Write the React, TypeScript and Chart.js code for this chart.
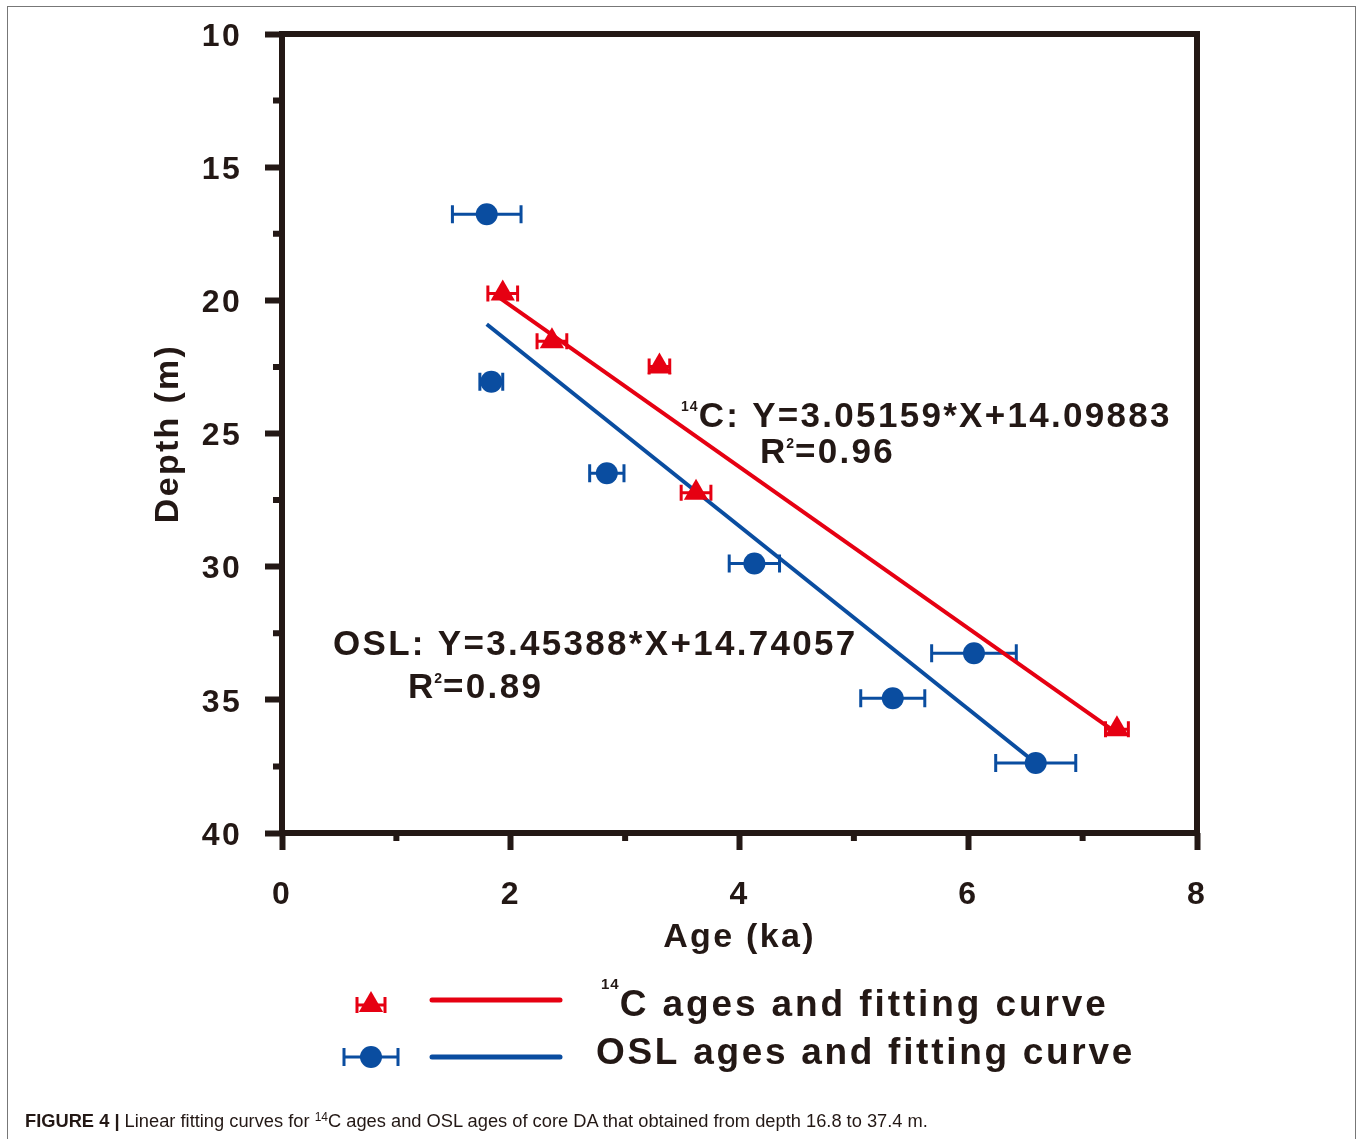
import React, { useEffect, useRef } from 'react';
import { Chart, registerables } from 'chart.js';

Chart.register(...registerables);

// ---------- data ----------
const c14Age = [1.93, 2.36, 3.30, 3.62, 7.30];
const c14Depth = [19.74, 21.54, 22.48, 27.22, 36.1];
const c14Err = [0.13, 0.13, 0.09, 0.13, 0.1];

const oslAge = [1.79, 1.83, 2.84, 4.13, 6.05, 5.34, 6.59];
const oslDepth = [16.77, 23.06, 26.49, 29.88, 33.25, 34.94, 37.37];
const oslErr = [0.30, 0.10, 0.15, 0.22, 0.37, 0.28, 0.35];

const c14FitAge = [1.90, 7.30];
const c14FitDepth = [19.90, 36.25];
const oslFitAge = [1.79, 6.59];
const oslFitDepth = [20.90, 37.37];

const xMinorTicks = [1, 3, 5, 7];
const yMinorTicks = [12.5, 17.5, 22.5, 27.5, 32.5, 37.5];

const c14Equation = 'C: Y=3.05159*X+14.09883';
const c14R2 = '=0.96';
const oslEquation = 'OSL: Y=3.45388*X+14.74057';
const oslR2 = '=0.89';
const c14Label = 'C ages and fitting curve';
const oslLabel = 'OSL ages and fitting curve';

// ---------- styles ----------
const INK = '#231815';
const RED = '#e60012';
const BLUE = '#0a4da0';
const FONT = '"Liberation Sans", Arial, Helvetica, sans-serif';

type Part = { t: string; size: number; dy: number; ls: number };

function drawRich(ctx: CanvasRenderingContext2D, x: number, y: number, parts: Part[], color: string) {
  let cx = x;
  ctx.save();
  ctx.fillStyle = color;
  ctx.textAlign = 'left';
  ctx.textBaseline = 'alphabetic';
  for (const p of parts) {
    ctx.font = `bold ${p.size}px ${FONT}`;
    (ctx as any).letterSpacing = `${p.ls}px`;
    ctx.fillText(p.t, cx, y + p.dy);
    cx += ctx.measureText(p.t).width;
  }
  ctx.restore();
}

function drawErrorBar(ctx: CanvasRenderingContext2D, x1: number, x2: number, y: number, cap: number, color: string) {
  ctx.save();
  ctx.strokeStyle = color;
  ctx.lineWidth = 3;
  ctx.beginPath();
  ctx.moveTo(x1, y);
  ctx.lineTo(x2, y);
  ctx.moveTo(x1, y - cap);
  ctx.lineTo(x1, y + cap);
  ctx.moveTo(x2, y - cap);
  ctx.lineTo(x2, y + cap);
  ctx.stroke();
  ctx.restore();
}

function drawTriangle(ctx: CanvasRenderingContext2D, x: number, y: number, r: number, color: string) {
  ctx.save();
  ctx.fillStyle = color;
  ctx.beginPath();
  for (let i = 0; i < 3; i++) {
    const a = (i * 2 * Math.PI) / 3;
    const px = x + Math.sin(a) * r;
    const py = y - Math.cos(a) * r;
    if (i === 0) ctx.moveTo(px, py);
    else ctx.lineTo(px, py);
  }
  ctx.closePath();
  ctx.fill();
  ctx.restore();
}

const decorPlugin = {
  id: 'decor',
  beforeDraw(chart: any) {
    (chart.ctx as any).letterSpacing = '2.3px';
  },
  beforeDatasetsDraw(chart: any) {
    const ctx = chart.ctx as CanvasRenderingContext2D;
    const xs = chart.scales.x;
    const ys = chart.scales.y;
    c14Age.forEach((a, i) => {
      drawErrorBar(ctx, xs.getPixelForValue(a - c14Err[i]), xs.getPixelForValue(a + c14Err[i]), ys.getPixelForValue(c14Depth[i]), 8, RED);
    });
    oslAge.forEach((a, i) => {
      drawErrorBar(ctx, xs.getPixelForValue(a - oslErr[i]), xs.getPixelForValue(a + oslErr[i]), ys.getPixelForValue(oslDepth[i]), 9, BLUE);
    });
  },
  afterDraw(chart: any) {
    const ctx = chart.ctx as CanvasRenderingContext2D;
    const xs = chart.scales.x;
    const ys = chart.scales.y;
    const { left, right, top, bottom } = chart.chartArea;

    // frame
    ctx.save();
    ctx.strokeStyle = INK;
    ctx.lineWidth = 6;
    ctx.lineJoin = 'miter';
    ctx.strokeRect(left, top, right - left, bottom - top);
    // minor ticks
    ctx.beginPath();
    for (const v of yMinorTicks) {
      const py = ys.getPixelForValue(v);
      ctx.moveTo(left - 9, py);
      ctx.lineTo(left, py);
    }
    for (const v of xMinorTicks) {
      const px = xs.getPixelForValue(v);
      ctx.moveTo(px, bottom);
      ctx.lineTo(px, bottom + 8);
    }
    ctx.stroke();
    ctx.restore();

    // equations
    drawRich(ctx, xs.getPixelForValue(3.489), ys.getPixelForValue(24.756), [
      { t: '14', size: 14, dy: -16, ls: 1 },
      { t: c14Equation, size: 35, dy: 0, ls: 2.3 },
    ], INK);
    drawRich(ctx, xs.getPixelForValue(4.179), ys.getPixelForValue(26.108), [
      { t: 'R', size: 35, dy: 0, ls: 1 },
      { t: '2', size: 14, dy: -15, ls: 1 },
      { t: c14R2, size: 35, dy: 0, ls: 2.3 },
    ], INK);
    drawRich(ctx, xs.getPixelForValue(0.446), ys.getPixelForValue(33.317), [
      { t: oslEquation, size: 35, dy: 0, ls: 2.3 },
    ], INK);
    drawRich(ctx, xs.getPixelForValue(1.102), ys.getPixelForValue(34.93), [
      { t: 'R', size: 35, dy: 0, ls: 1 },
      { t: '2', size: 14, dy: -15, ls: 1 },
      { t: oslR2, size: 35, dy: 0, ls: 2.3 },
    ], INK);

    // legend
    ctx.save();
    drawErrorBar(ctx, 357, 385, 1005, 8, RED);
    drawTriangle(ctx, 371, 1005, 14, RED);
    drawErrorBar(ctx, 344, 398, 1057, 9, BLUE);
    ctx.fillStyle = BLUE;
    ctx.beginPath();
    ctx.arc(371, 1057, 11, 0, Math.PI * 2);
    ctx.fill();
    ctx.lineWidth = 5;
    ctx.lineCap = 'round';
    ctx.strokeStyle = RED;
    ctx.beginPath();
    ctx.moveTo(432, 1000);
    ctx.lineTo(560, 1000);
    ctx.stroke();
    ctx.strokeStyle = BLUE;
    ctx.beginPath();
    ctx.moveTo(432, 1057);
    ctx.lineTo(560, 1057);
    ctx.stroke();
    ctx.restore();
    drawRich(ctx, 601, 1016, [
      { t: '14', size: 15, dy: -27, ls: 1 },
      { t: c14Label, size: 37, dy: 0, ls: 2.9 },
    ], INK);
    drawRich(ctx, 596, 1064, [
      { t: oslLabel, size: 37, dy: 0, ls: 2.7 },
    ], INK);
  },
};

export default function App() {
  const ref = useRef<HTMLCanvasElement>(null);

  useEffect(() => {
    const canvas = ref.current;
    if (!canvas) return;
    const tickFont = { family: FONT, size: 32, weight: 'bold' as const };
    const titleFont = { family: FONT, size: 34, weight: 'bold' as const };
    const grid = {
      drawOnChartArea: false,
      drawTicks: true,
      tickLength: 17,
      tickWidth: 6,
      tickColor: INK,
      color: INK,
    };
    const chart = new Chart(canvas, {
      type: 'scatter',
      data: {
        datasets: [
          {
            label: '14C ages',
            data: c14Age.map((x, i) => ({ x, y: c14Depth[i] })),
            pointStyle: 'triangle',
            pointRadius: 14,
            backgroundColor: RED,
            borderColor: RED,
            borderWidth: 0,
            showLine: false,
          },
          {
            label: 'OSL ages',
            data: oslAge.map((x, i) => ({ x, y: oslDepth[i] })),
            pointStyle: 'circle',
            pointRadius: 11,
            backgroundColor: BLUE,
            borderColor: BLUE,
            borderWidth: 0,
            showLine: false,
          },
          {
            label: '14C fitting curve',
            data: c14FitAge.map((x, i) => ({ x, y: c14FitDepth[i] })),
            showLine: true,
            borderColor: RED,
            borderWidth: 4,
            pointRadius: 0,
          },
          {
            label: 'OSL fitting curve',
            data: oslFitAge.map((x, i) => ({ x, y: oslFitDepth[i] })),
            showLine: true,
            borderColor: BLUE,
            borderWidth: 4,
            pointRadius: 0,
          },
        ],
      },
      options: {
        responsive: false,
        animation: false,
        layout: { padding: { left: 0, top: 34, right: 163, bottom: 176 } },
        plugins: {
          legend: { display: false },
          tooltip: { enabled: false },
        },
        scales: {
          x: {
            type: 'linear',
            position: 'bottom',
            min: 0,
            max: 8,
            afterFit: (s: any) => { s.height = 130; s.paddingLeft = 0; s.paddingRight = 0; },
            border: { display: false },
            grid,
            ticks: { stepSize: 2, color: INK, font: tickFont, padding: 26, maxRotation: 0, autoSkip: false },
            title: { display: true, text: 'Age (ka)', color: INK, font: titleFont, padding: { top: 0, bottom: 5 } },
          },
          y: {
            type: 'linear',
            position: 'left',
            min: 10,
            max: 40,
            reverse: true,
            afterFit: (s: any) => { s.width = 282; s.paddingTop = 0; s.paddingBottom = 0; },
            border: { display: false },
            grid,
            ticks: { stepSize: 5, color: INK, font: tickFont, padding: 23, autoSkip: false, labelOffset: 3 },
            title: { display: true, text: 'Depth (m)', color: INK, font: titleFont, padding: { top: 148, bottom: 0 } },
          },
        },
      },
      plugins: [decorPlugin],
    } as any);
    return () => chart.destroy();
  }, []);

  return (
    <div style={{ position: 'absolute', left: 0, top: 0, width: 1360, height: 1139, overflow: 'hidden', background: '#fff' }}>
      <div
        style={{
          position: 'absolute',
          left: 7,
          top: 6,
          width: 1349,
          height: 1133,
          boxSizing: 'border-box',
          borderLeft: '1.5px solid #777',
          borderTop: '1.5px solid #777',
          borderRight: '1.5px solid #777',
        }}
      />
      <canvas ref={ref} width={1360} height={1139} style={{ position: 'absolute', left: 0, top: 0, width: 1360, height: 1139 }} />
      <div
        style={{
          position: 'absolute',
          left: 25,
          top: 1111,
          fontFamily: FONT,
          fontSize: 18.3,
          lineHeight: '20px',
          color: '#231815',
          whiteSpace: 'nowrap',
        }}
      >
        <b>FIGURE 4 |</b> Linear fitting curves for{' '}
        <span style={{ fontSize: 12, verticalAlign: 'top', lineHeight: '12px' }}>14</span>C ages and OSL ages of core DA that obtained from depth 16.8 to 37.4 m.
      </div>
    </div>
  );
}
